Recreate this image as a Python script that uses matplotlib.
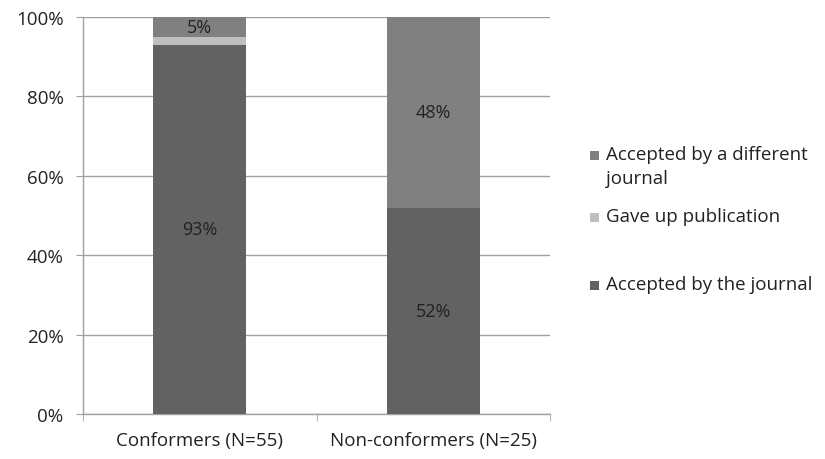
import matplotlib
matplotlib.use("Agg")
import matplotlib.pyplot as plt
from matplotlib.ticker import FuncFormatter, FixedLocator
from matplotlib.patches import Rectangle
import numpy as np

categories = ["Conformers (N=55)", "Non-conformers (N=25)"]
accepted_journal = [93, 52]
gave_up = [2, 0]
accepted_other = [5, 48]
series_names = ["Accepted by the journal", "Gave up publication",
                "Accepted by a different\njournal"]
colors = ["#626262", "#BFBFBF", "#808080"]

plt.rcParams['font.family'] = ['Open Sans', 'DejaVu Sans']
FS = 13.5

fig = plt.figure(figsize=(8.25, 4.6), dpi=100)
ax = fig.add_axes([83/825, 1-415/460, (550-83)/825, (415-18)/460])

x = np.arange(len(categories))
w = 0.4
bottom = np.zeros(len(categories))
bars = []
for vals, name, c in zip([accepted_journal, gave_up, accepted_other], series_names, colors):
    b = ax.bar(x, vals, w, bottom=bottom, color=c, label=name, zorder=3)
    bars.append(b)
    bottom = bottom + np.array(vals)

for i in range(len(categories)):
    ax.text(x[i], accepted_journal[i]/2, f"{accepted_journal[i]}%", ha='center', va='center',
            fontsize=FS - 0.5, color='#222222', zorder=4)
    top = accepted_journal[i] + gave_up[i]
    ax.text(x[i], top + accepted_other[i]/2, f"{accepted_other[i]}%", ha='center', va='center',
            fontsize=FS - 0.5, color='#222222', zorder=4)

ax.set_xlim(-0.5, 1.5)
ax.set_ylim(0, 100)
ax.set_yticks([0, 20, 40, 60, 80, 100])
ax.yaxis.set_major_formatter(FuncFormatter(lambda v, p: f"{int(v)}%"))
ax.set_xticks(x)
ax.set_xticklabels(categories)
ax.xaxis.set_minor_locator(FixedLocator([-0.5, 0.5, 1.5]))
ax.tick_params(axis='x', which='major', length=0, pad=12, labelsize=FS, colors='#222222')
ax.tick_params(axis='x', which='minor', length=5, color='#A0A0A0', direction='out')
ax.tick_params(axis='y', length=5, pad=9, labelsize=FS, labelcolor='#222222', color='#A0A0A0')
ax.grid(axis='y', color='#A0A0A0', linewidth=1, zorder=0)
for s in ['top', 'right']:
    ax.spines[s].set_visible(False)
for s in ['left', 'bottom']:
    ax.spines[s].set_color('#A0A0A0')
    ax.spines[s].set_linewidth(1)

# legend, drawn manually to match the uneven Excel spacing
legend_order = [2, 1, 0]
legend_y = [156, 218, 286]  # pixel y of first text line
sq = 9
for idx, yp in zip(legend_order, legend_y):
    fig.patches.append(Rectangle((590/825, 1-(yp+sq/2)/460), sq/825, sq/460,
                                 transform=fig.transFigure, facecolor=colors[idx],
                                 edgecolor='none'))
    fig.text(606/825, 1-(yp-10)/460, series_names[idx], ha='left', va='top',
             fontsize=FS, color='#222222', linespacing=1.45)

fig.savefig("out.png", dpi=100)
